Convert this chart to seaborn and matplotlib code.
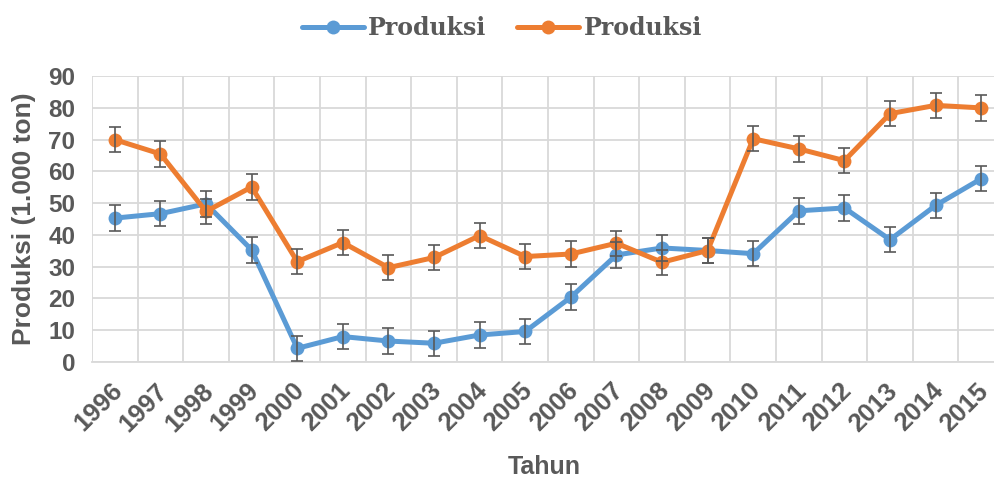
# -*- coding: utf-8 -*-
"""
Produksi per tahun, 1996-2015 (two series with error bars)
"""

import matplotlib.pyplot as plt
import matplotlib.transforms as mtransforms
import numpy as np
import pandas as pd
import seaborn as sns

# Data
years = [str(y) for y in range(1996, 2016)]
produksi_blue = [45.3, 46.7, 49.8, 35.3, 4.3, 8.0, 6.6, 5.9, 8.5, 9.6,
                 20.4, 33.7, 35.9, 35.1, 34.1, 47.6, 48.5, 38.5, 49.3, 57.7]
produksi_orange = [70.0, 65.5, 47.4, 55.1, 31.6, 37.6, 29.7, 32.9, 39.8, 33.2,
                   34.0, 37.4, 31.4, 35.1, 70.3, 67.1, 63.4, 78.2, 80.8, 80.0]
error = 4.0
y_ticks = list(range(0, 100, 10))

blue = '#5B9BD5'
orange = '#ED7D31'
text_grey = '#595959'
grid_grey = '#D9D9D9'

df = pd.DataFrame({'idx': np.arange(len(years)),
                   'blue': produksi_blue,
                   'orange': produksi_orange})

sns.set_theme(style='white')
plt.rcParams['font.family'] = ['Liberation Sans', 'DejaVu Sans']

fig = plt.figure(figsize=(9.94, 4.78), dpi=100)
ax = fig.add_axes([0.0926, 0.2427, 0.9175, 0.598])

# Lines with markers
for col, color in [('blue', blue), ('orange', orange)]:
    sns.lineplot(data=df, x='idx', y=col, ax=ax, color=color, linewidth=3.6,
                 marker='o', markersize=10, markeredgewidth=0,
                 label='Produksi', zorder=3)
    ax.errorbar(df['idx'], df[col], yerr=error, fmt='none',
                ecolor=text_grey, elinewidth=1.2, capsize=4, capthick=1.2,
                zorder=4)

# Axes limits, grid
ax.set_xlim(-0.5, len(years) - 0.5)
ax.set_ylim(0, 90)
ax.set_yticks(y_ticks)
ax.set_xticks(np.arange(len(years)))
ax.set_xticks(np.arange(-0.5, len(years), 1), minor=True)
ax.grid(False)
ax.yaxis.grid(True, which='major', color=grid_grey, linewidth=1.3, zorder=0)
ax.xaxis.grid(True, which='minor', color=grid_grey, linewidth=1.3, zorder=0)
ax.set_axisbelow(True)
for side in ['top', 'right', 'left']:
    ax.spines[side].set_visible(False)
ax.spines['bottom'].set_color(grid_grey)
ax.spines['bottom'].set_linewidth(1.3)

ax.tick_params(axis='both', which='both', length=0)
ax.tick_params(axis='y', pad=12)
ax.set_yticklabels([str(t) for t in y_ticks], fontsize=17.5, fontweight='bold',
                   color=text_grey)
ax.set_xticklabels(years, fontsize=18.5, fontweight='bold', color=text_grey,
                   rotation=45, ha='right', va='top', rotation_mode='anchor')
ax.tick_params(axis='x', pad=12)
# nudge the rotated year labels a little to the left
shift = mtransforms.ScaledTranslation(-5 / 100, 0, fig.dpi_scale_trans)
for lbl in ax.get_xticklabels():
    lbl.set_transform(lbl.get_transform() + shift)

ax.set_xlabel('Tahun', fontsize=18, fontweight='bold', color=text_grey)
ax.xaxis.set_label_coords(0.5 * (0.994 - 0.0926) / 0.9175 + 0.005, -0.325)
ax.set_ylabel('Produksi (1.000 ton)', fontsize=19, fontweight='bold',
              color=text_grey)
ax.yaxis.set_label_coords(-0.062, 0.5)

# Legend on top
ax.get_legend().remove()
handles, labels = ax.get_legend_handles_labels()
leg = fig.legend(handles, labels, loc='upper center', ncol=2,
                 bbox_to_anchor=(0.505, 1.01), frameon=False,
                 handlelength=2.6, columnspacing=1.3, handletextpad=0.2,
                 prop={'family': 'DejaVu Serif', 'weight': 'bold', 'size': 17})
for t in leg.get_texts():
    t.set_color(text_grey)

plt.savefig('out.png', dpi=100)
